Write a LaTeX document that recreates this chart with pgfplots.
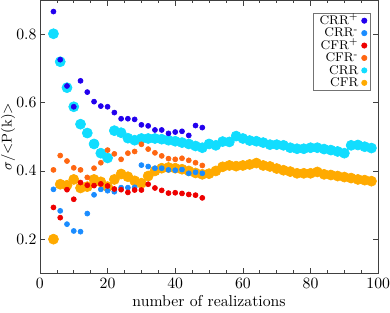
\documentclass[border=0pt]{standalone}
\usepackage{pgfplots}
\usepackage{pgfplotstable}
\pgfplotsset{compat=1.18}
\definecolor{crrp}{HTML}{2200EE}
\definecolor{crrm}{HTML}{1A8CFF}
\definecolor{cfrp}{HTML}{EE0000}
\definecolor{cfrm}{HTML}{FF6611}
\definecolor{crr}{HTML}{11DDFF}
\definecolor{cfr}{HTML}{FFAA00}
\pgfplotstableread{
N y
4 0.867
6 0.726
8 0.649
10 0.588
12 0.664
14 0.631
16 0.603
18 0.590
20 0.588
22 0.571
24 0.553
26 0.553
28 0.551
30 0.535
32 0.532
34 0.520
36 0.520
38 0.510
40 0.514
42 0.516
44 0.504
46 0.533
48 0.527
}\crrplus
\pgfplotstableread{
N y
4 0.346
6 0.283
8 0.244
10 0.224
12 0.222
14 0.275
16 0.330
18 0.346
20 0.342
22 0.339
24 0.351
26 0.351
28 0.352
30 0.417
32 0.413
34 0.408
36 0.408
38 0.403
40 0.402
42 0.404
44 0.393
46 0.396
48 0.393
}\crrminus
\pgfplotstableread{
N y
4 0.293
6 0.263
8 0.345
10 0.317
12 0.366
14 0.358
16 0.357
18 0.362
20 0.356
22 0.347
24 0.345
26 0.337
28 0.344
30 0.344
32 0.361
34 0.350
36 0.343
38 0.335
40 0.336
42 0.334
44 0.331
46 0.329
48 0.321
}\cfrplus
\pgfplotstableread{
N y
4 0.403
6 0.445
8 0.429
10 0.409
12 0.403
14 0.381
16 0.408
18 0.424
20 0.461
22 0.450
24 0.434
26 0.452
28 0.457
30 0.478
32 0.464
34 0.453
36 0.444
38 0.436
40 0.434
42 0.437
44 0.431
46 0.424
48 0.416
}\cfrminus
\pgfplotstableread{
N y
4 0.802
6 0.720
8 0.644
10 0.588
12 0.537
14 0.511
16 0.479
18 0.452
20 0.438
22 0.518
24 0.512
26 0.496
28 0.490
30 0.495
32 0.495
34 0.495
36 0.493
38 0.490
40 0.487
42 0.483
44 0.479
46 0.473
48 0.468
50 0.479
52 0.475
54 0.486
56 0.485
58 0.502
60 0.495
62 0.489
64 0.487
66 0.483
68 0.477
70 0.477
72 0.475
74 0.468
76 0.465
78 0.465
80 0.468
82 0.468
84 0.464
86 0.461
88 0.457
90 0.452
92 0.475
94 0.476
96 0.471
98 0.467
}\crrall
\pgfplotstableread{
N y
4 0.200
6 0.361
8 0.358
10 0.375
12 0.350
14 0.354
16 0.375
18 0.368
20 0.354
22 0.375
24 0.391
26 0.383
28 0.371
30 0.364
32 0.385
34 0.400
36 0.408
38 0.410
40 0.408
42 0.405
44 0.400
46 0.394
48 0.390
50 0.392
52 0.400
54 0.412
56 0.416
58 0.414
60 0.416
62 0.419
64 0.423
66 0.416
68 0.413
70 0.407
72 0.402
74 0.398
76 0.393
78 0.393
80 0.393
82 0.397
84 0.390
86 0.388
88 0.385
90 0.382
92 0.379
94 0.375
96 0.373
98 0.370
}\cfrall
\begin{document}
\begin{tikzpicture}
\begin{axis}[
  scale only axis,
  width=215pt, height=173.5pt,
  xmin=0, xmax=100, ymin=0.1, ymax=0.9,
  xtick={0,20,...,100},
  minor x tick num=3,
  ytick={0.2,0.4,0.6,0.8},
  yticklabel style={/pgf/number format/fixed,/pgf/number format/precision=1, inner xsep=0pt, xshift=-2pt},
  xticklabel style={inner xsep=0pt},
  tick align=inside,
  major tick length=3.5pt, minor tick length=2pt,
  axis line style={black!75},
  every tick/.style={black!75},
  xlabel={number of realizations},
  ylabel={$\sigma$/<P(k)>},
  xlabel style={yshift=2.5pt},
  ylabel style={font=\small, inner xsep=0pt, inner ysep=0.6pt},
  legend style={at={(0.977,0.955)}, anchor=north east, draw=black!55,
    font=\footnotesize, inner xsep=2pt, inner ysep=1pt,
    row sep=0pt, nodes={inner ysep=0.4pt, text height=5.9pt, text depth=1.2pt}},
  legend plot pos=right,
  legend cell align=right,
]
\addlegendimage{only marks, mark=*, mark size=1.7pt, color=crrp}
\addlegendentry{CRR\textsuperscript{+}}
\addlegendimage{only marks, mark=*, mark size=1.7pt, color=crrm}
\addlegendentry{CRR\textsuperscript{-}}
\addlegendimage{only marks, mark=*, mark size=1.7pt, color=cfrp}
\addlegendentry{CFR\textsuperscript{+}}
\addlegendimage{only marks, mark=*, mark size=1.7pt, color=cfrm}
\addlegendentry{CFR\textsuperscript{-}}
\addlegendimage{only marks, mark=*, mark size=1.7pt, color=crr}
\addlegendentry{CRR}
\addlegendimage{only marks, mark=*, mark size=1.7pt, color=cfr}
\addlegendentry{CFR}
\addplot[only marks, mark=*, mark size=3.2pt, color=crr, forget plot] table {\crrall};
\addplot[only marks, mark=*, mark size=3.2pt, color=cfr, forget plot] table {\cfrall};
\addplot[only marks, mark=*, mark size=1.6pt, color=crrp, forget plot] table {\crrplus};
\addplot[only marks, mark=*, mark size=1.6pt, color=crrm, forget plot] table {\crrminus};
\addplot[only marks, mark=*, mark size=1.6pt, color=cfrp, forget plot] table {\cfrplus};
\addplot[only marks, mark=*, mark size=1.6pt, color=cfrm, forget plot] table {\cfrminus};
\end{axis}
\end{tikzpicture}
\end{document}
